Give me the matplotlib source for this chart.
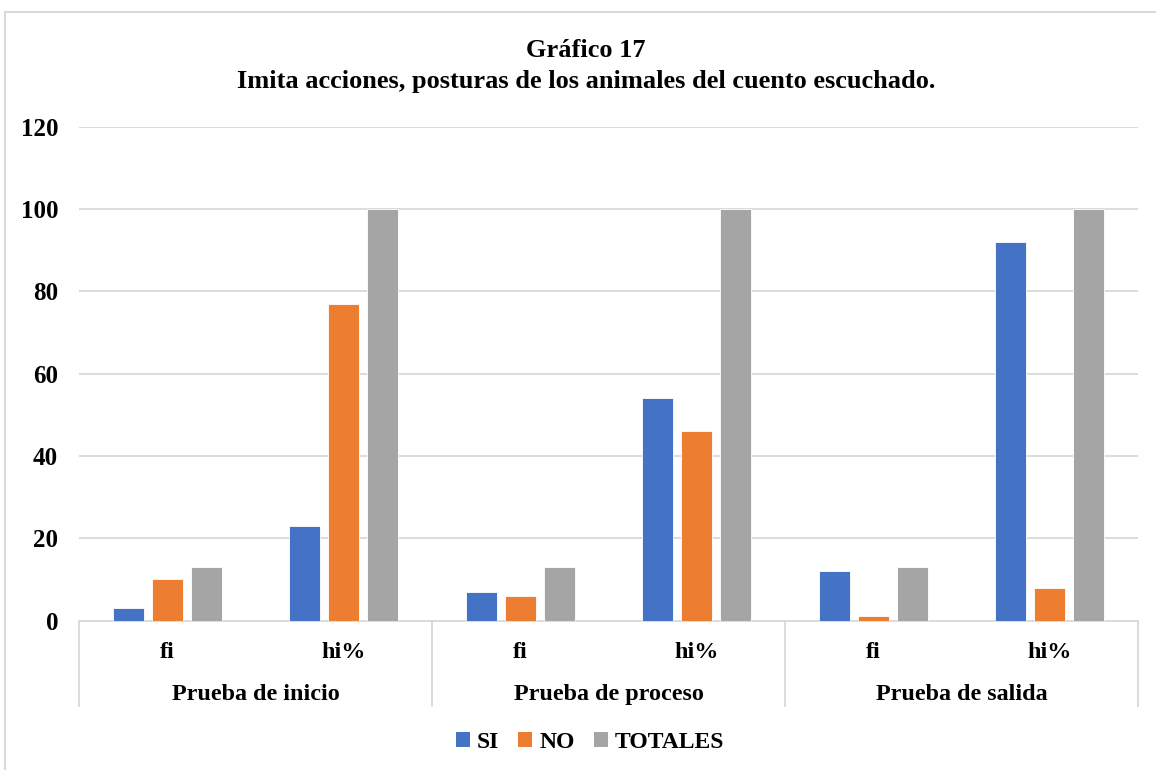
import matplotlib
matplotlib.use("Agg")
import matplotlib.pyplot as plt
from matplotlib.lines import Line2D
from matplotlib.patches import Patch
from matplotlib.transforms import blended_transform_factory

plt.rcParams['font.family'] = ['Liberation Serif', 'DejaVu Serif']
plt.rcParams['font.weight'] = 'bold'

# ---- data ----
groups = ["Prueba de inicio", "Prueba de proceso", "Prueba de salida"]
subcats = ["fi", "hi%", "fi", "hi%", "fi", "hi%"]
si = [3, 23, 7, 54, 12, 92]
no = [10, 77, 6, 46, 1, 8]
totales = [13, 100, 13, 100, 13, 100]
series_names = ["SI", "NO", "TOTALES"]
colors = ["#4472C4", "#ED7D31", "#A5A5A5"]
yticks = [0, 20, 40, 60, 80, 100, 120]

W, H = 1156, 770
fig = plt.figure(figsize=(W / 100, H / 100), dpi=100)
fig.patch.set_facecolor("white")

def fx(px):
    return px / W

def fy(py):
    return 1 - py / H

left, right, top, bottom = 79, 1138, 126.7, 620.5
ax = fig.add_axes([fx(left), fy(bottom), fx(right - left), (bottom - top) / H])

x = list(range(len(subcats)))
bw = 0.175
step = 0.222
for i, (vals, c) in enumerate(zip([si, no, totales], colors)):
    ax.bar([xi + (i - 1) * step for xi in x], vals, width=bw, color=c,
           edgecolor="white", linewidth=0.6, zorder=3)

ax.set_xlim(-0.5, len(subcats) - 0.5)
ax.set_ylim(0, 120)
ax.set_yticks(yticks)
ax.set_yticklabels([str(t) for t in yticks], fontsize=18, fontweight="bold")
ax.tick_params(axis="y", length=0, pad=15)
ax.tick_params(axis="x", length=0, labelbottom=False)
ax.grid(axis="y", color="#D9D9D9", linewidth=1.3, zorder=0)
for s in ["top", "right", "left"]:
    ax.spines[s].set_visible(False)
ax.spines["bottom"].set_color("#D9D9D9")
ax.spines["bottom"].set_linewidth(1.3)

# multi-level category axis
tr = blended_transform_factory(ax.transData, fig.transFigure)
for xi, lab in zip(x, subcats):
    fig.text(xi, fy(658), lab, transform=tr, ha="center", va="baseline",
             fontsize=17.4, fontweight="bold")
for gi, g in enumerate(groups):
    fig.text(2 * gi + 0.5, fy(700), g, transform=tr, ha="center", va="baseline",
             fontsize=17.4, fontweight="bold")
for b in [-0.5, 1.5, 3.5, 5.5]:
    fig.add_artist(Line2D([b, b], [fy(bottom), fy(706)], transform=tr,
                          color="#D9D9D9", linewidth=1.3))

# title
fig.text(fx(586), fy(57), "Gráfico 17", ha="center", va="baseline",
         fontsize=19, fontweight="bold")
fig.text(fx(586), fy(88), "Imita acciones, posturas de los animales del cuento escuchado.",
         ha="center", va="baseline", fontsize=19, fontweight="bold")

# legend
handles = [Patch(facecolor=c, edgecolor="none") for c in colors]
fig.legend(handles, series_names, loc="center", bbox_to_anchor=(fx(590), fy(742)),
           ncol=3, frameon=False, handlelength=0.6, handleheight=0.6,
           handletextpad=0.3, columnspacing=0.8, prop={"weight": "bold", "size": 17})

# chart border (top and left visible)
fig.add_artist(Line2D([fx(5), fx(5)], [fy(12), fy(H + 5)], color="#D9D9D9", linewidth=1.5))
fig.add_artist(Line2D([fx(5), fx(W + 5)], [fy(12), fy(12)], color="#D9D9D9", linewidth=1.5))

fig.savefig("out.png", dpi=100, facecolor="white")
